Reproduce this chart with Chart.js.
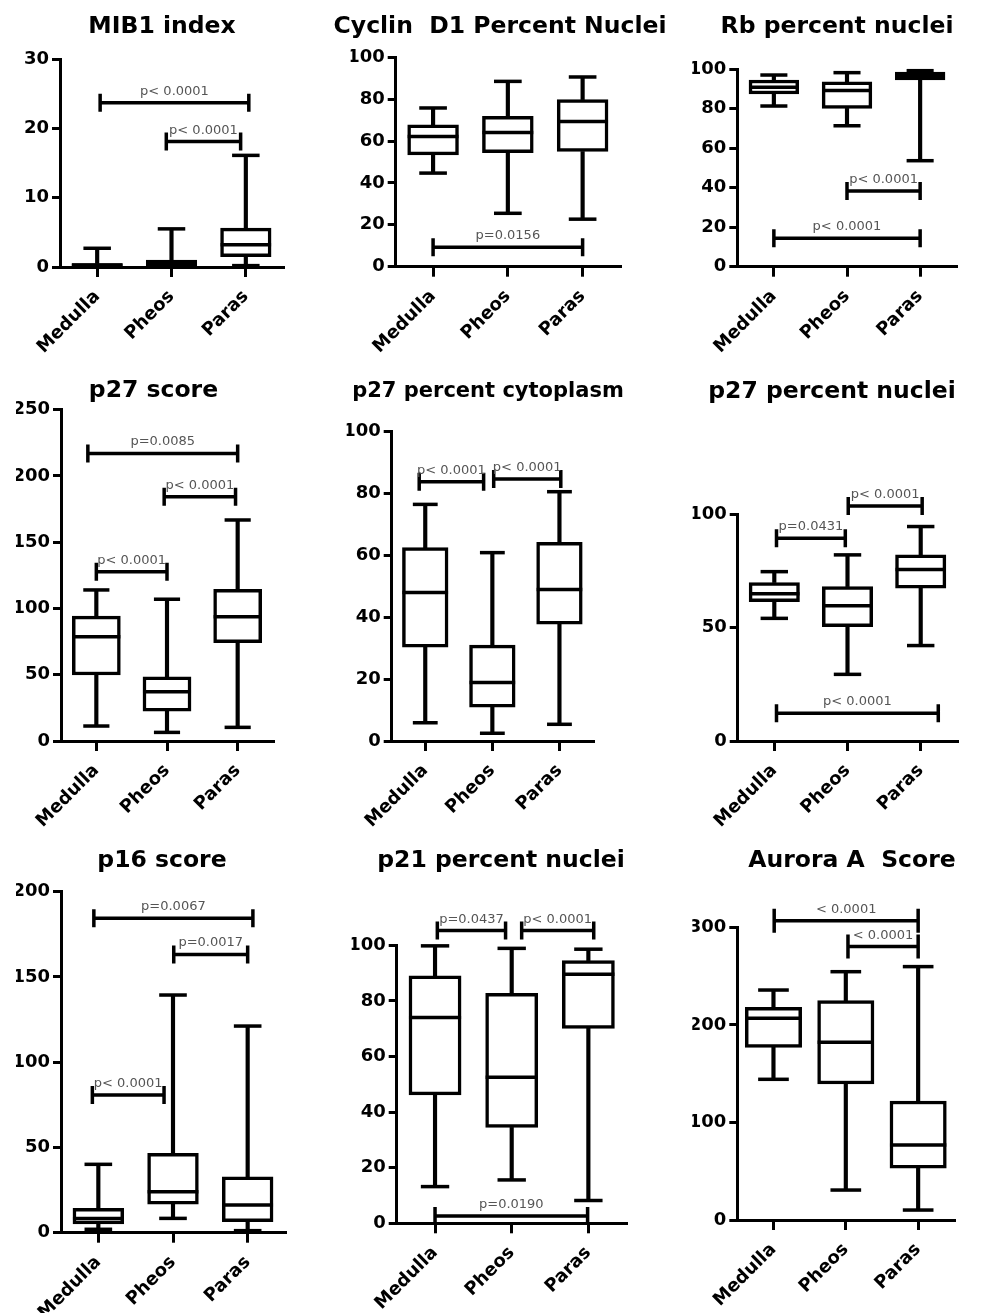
<!DOCTYPE html>
<html lang="en">
<head>
<meta charset="UTF-8">
<title>Medulla / Pheos / Paras box plots</title>
<script src="https://cdn.jsdelivr.net/npm/chart.js"></script>
<style>
  body { margin: 0; background: #fff; }
  #page { position: relative; width: 986px; height: 1313px; overflow: hidden; background: #fff; }
  canvas { position: absolute; }
</style>
</head>
<body>
<div id="page"></div>
<script>
const groups = ['Medulla', 'Pheos', 'Paras'];
const titles = ['MIB1 index', 'Cyclin  D1 Percent Nuclei', 'Rb percent nuclei',
                'p27 score', 'p27 percent cytoplasm', 'p27 percent nuclei',
                'p16 score', 'p21 percent nuclei', 'Aurora A  Score'];

// [min, Q1, median, Q3, max] for Medulla, Pheos, Paras
const mib1Index      = [[0, 0.1, 0.3, 0.5, 2.7],    [0, 0.1, 0.5, 1.0, 5.5],      [0.2, 1.5, 3.2, 5.6, 16.1]];
const cyclinD1Nuclei = [[44.7, 53.4, 62.2, 67.8, 75.8], [25.5, 54.5, 64.1, 71.8, 88.5], [22.7, 55.0, 69.4, 79.8, 90.6]];
const rbNuclei       = [[81.4, 87.5, 90.9, 94.6, 97.1], [71.4, 80.2, 89.2, 93.7, 98.3], [53.7, 94.6, 96.6, 98.6, 99.3]];
const p27Score       = [[11.3, 49.8, 78.7, 94.3, 114], [6.5, 22.6, 37.2, 48.5, 107],  [10.3, 74.2, 93.8, 114.5, 166.8]];
const p27Cytoplasm   = [[5.9, 30.3, 48.0, 62.5, 76.5], [2.5, 10.9, 18.9, 31.0, 60.9], [5.4, 37.8, 49.0, 64.2, 80.6]];
const p27Nuclei      = [[54.1, 61.5, 64.9, 69.9, 74.7], [29.4, 50.4, 59.7, 68.1, 82.1], [42.1, 67.4, 75.7, 82.1, 94.6]];
const p16Score       = [[2.0, 5.1, 8.4, 14.3, 40.1],  [8.4, 16.8, 24.0, 46.5, 139.4], [1.2, 6.5, 16.2, 32.8, 121.2]];
const p21Nuclei      = [[13.2, 46.2, 74.0, 89.0, 99.8], [15.6, 34.5, 52.5, 82.7, 98.9], [8.2, 70.1, 89.6, 94.5, 98.6]];
const auroraAScore   = [[144.2, 177, 206.7, 218, 235.7], [30.7, 139.4, 182.1, 224.8, 254.5], [10.2, 53, 76.9, 122, 259.7]];
const boxData = [mib1Index, cyclinD1Nuclei, rbNuclei, p27Score, p27Cytoplasm, p27Nuclei, p16Score, p21Nuclei, auroraAScore];

// significance bars: [from, to, y value, label]  (0 = Medulla, 1 = Pheos, 2 = Paras)
const mib1Pvalues      = [[0.04, 2.04, 23.7, 'p< 0.0001'], [0.93, 1.93, 18.1, 'p< 0.0001']];
const cyclinD1Pvalues  = [[0, 2, 9.3, 'p=0.0156']];
const rbPvalues        = [[1, 2, 38.3, 'p< 0.0001'], [0, 2, 14.4, 'p< 0.0001']];
const p27ScorePvalues  = [[-0.12, 2, 217, 'p=0.0085'], [0.96, 1.97, 184.4, 'p< 0.0001'], [0, 1, 127.8, 'p< 0.0001']];
const p27CytoPvalues   = [[-0.09, 0.87, 83.8, 'p< 0.0001'], [1.02, 2.02, 84.7, 'p< 0.0001']];
const p27NucPvalues    = [[0.03, 0.97, 89.4, 'p=0.0431'], [1.01, 2.02, 103.7, 'p< 0.0001'], [0.03, 2.24, 12.2, 'p< 0.0001']];
const p16Pvalues       = [[-0.06, 2.07, 184.4, 'p=0.0067'], [1.01, 2.0, 163.2, 'p=0.0017'], [-0.08, 0.88, 80.7, 'p< 0.0001']];
const p21Pvalues       = [[0.03, 0.92, 105.3, 'p=0.0437'], [1.13, 2.07, 105.3, 'p< 0.0001'], [0, 1.99, 2.6, 'p=0.0190']];
const auroraPvalues    = [[0.01, 2, 306.8, '< 0.0001'], [1.03, 2, 280.2, '< 0.0001']];
const pvalues = [mib1Pvalues, cyclinD1Pvalues, rbPvalues, p27ScorePvalues, p27CytoPvalues,
                 p27NucPvalues, p16Pvalues, p21Pvalues, auroraPvalues];

const yMaxes = [30, 100, 100, 250, 100, 100, 200, 100, 300];
const ySteps = [10, 20, 20, 50, 20, 50, 50, 20, 100];

// page layout: canvas x, y, w, h, axis left, axis right, y-max px, y-zero px, title x, title baseline, title size, bar end half height
const frames = [
  [0,   0,   330, 372, 60,    283,   59,    267,    162, 33,    23.5, 9],
  [326, 0,   346, 372, 395.7, 620,   57.3,  266.7,  500, 33,    23.5, 9],
  [660, 0,   326, 372, 737.3, 956.7, 69.3,  266.7,  837, 33.3,  23.5, 9],
  [0,   372, 330, 468, 61,    273,   409.75, 741,   153.5, 397, 23.5, 9],
  [326, 372, 346, 468, 391.7, 593,   431.7, 741,    488, 397,   21,   9],
  [660, 372, 326, 468, 737.7, 960,   514.3, 741,    832, 398,   23.5, 9],
  [0,   840, 330, 473, 61,    285,   891.7, 1232.7, 162, 866.7, 23.5, 9],
  [326, 840, 346, 473, 396.7, 626.7, 945.3, 1223.3, 501, 866.7, 23.5, 9],
  [660, 840, 326, 473, 737.3, 986,   927.3, 1220,   852, 866.7, 23.5, 12]
];

const ink = '#000';
const LW = 3.5;
const FONT = '"DejaVu Sans", sans-serif';
Chart.defaults.font.family = FONT;
const page = document.getElementById('page');

function decorations(i, cx, cy, tX, tY, tSize, endHalf) {
  return {
    id: 'decorations' + i,
    afterDatasetsDraw(chart) {
      const { ctx, scales: { x, y } } = chart;
      ctx.save();
      ctx.strokeStyle = ink;
      ctx.lineWidth = LW;
      ctx.textAlign = 'center';
      ctx.textBaseline = 'alphabetic';
      pvalues[i].forEach(([a, b, v, label]) => {
        const x1 = x.getPixelForValue(a), x2 = x.getPixelForValue(b), yy = y.getPixelForValue(v);
        ctx.beginPath();
        ctx.moveTo(x1, yy); ctx.lineTo(x2, yy);
        ctx.moveTo(x1, yy - endHalf); ctx.lineTo(x1, yy + endHalf);
        ctx.moveTo(x2, yy - endHalf); ctx.lineTo(x2, yy + endHalf);
        ctx.stroke();
        ctx.fillStyle = '#555';
        ctx.font = '13px ' + FONT;
        ctx.fillText(label, (x1 + x2) / 2, yy - 8);
      });
      ctx.fillStyle = ink;
      ctx.font = 'bold ' + tSize + 'px ' + FONT;
      ctx.fillText(titles[i], tX - cx, tY - cy);
      ctx.restore();
    }
  };
}

function makePanel(i) {
  const [cx, cy, cw, ch, axL, axR, yTopPx, y0Px, tX, tY, tSize, endHalf] = frames[i];
  const canvas = document.createElement('canvas');
  canvas.width = cw;
  canvas.height = ch;
  canvas.style.left = cx + 'px';
  canvas.style.top = cy + 'px';
  page.appendChild(canvas);

  const stats = boxData[i];
  const spacing = (axR - axL) / groups.length;
  const boxW = spacing * 0.68;
  const capW = spacing * 0.37;
  const yw = 45;
  const col = k => stats.map(s => s[k]);
  const tickMarks = (len) => ({ offset: false, drawOnChartArea: false, drawTicks: true, tickLength: len, lineWidth: 3, color: ink });
  const points = (data, r) => ({
    type: 'line', data, showLine: false, pointStyle: 'line', pointRadius: r,
    pointBorderWidth: LW, pointBorderColor: ink, borderColor: ink, clip: false, order: 1
  });

  new Chart(canvas, {
    type: 'bar',
    data: {
      labels: groups,
      datasets: [
        { data: stats.map(s => [s[0], s[1]]), barThickness: LW, backgroundColor: ink, grouped: false, clip: false, order: 3 },
        { data: stats.map(s => [s[3], s[4]]), barThickness: LW, backgroundColor: ink, grouped: false, clip: false, order: 3 },
        { data: stats.map(s => [s[1], s[3]]), barThickness: boxW, backgroundColor: '#fff', borderColor: ink,
          borderWidth: LW, borderSkipped: false, grouped: false, clip: false, order: 2 },
        points(col(0), capW / 2),
        points(col(4), capW / 2),
        points(col(2), boxW / 2)
      ]
    },
    options: {
      responsive: false,
      animation: false,
      events: [],
      layout: { padding: { top: yTopPx - cy, left: axL - cx - yw, right: cx + cw - axR, bottom: 0 } },
      plugins: { legend: { display: false }, tooltip: { enabled: false }, title: { display: false } },
      scales: {
        x: {
          type: 'category',
          offset: true,
          grid: tickMarks(10),
          border: { display: true, width: 3, color: ink },
          ticks: { color: ink, font: { size: 18, weight: 'bold' }, minRotation: 45, maxRotation: 45, autoSkip: false, padding: 9 },
          afterFit: s => { s.height = cy + ch - y0Px; }
        },
        y: {
          min: 0,
          max: yMaxes[i],
          grid: tickMarks(8),
          border: { display: true, width: 3, color: ink },
          ticks: { stepSize: ySteps[i], color: ink, font: { size: 18, weight: 'bold' }, padding: 3 },
          afterFit: s => { s.width = yw; }
        }
      }
    },
    plugins: [decorations(i, cx, cy, tX, tY, tSize, endHalf)]
  });
}

boxData.forEach((_, i) => makePanel(i));
</script>
</body>
</html>
